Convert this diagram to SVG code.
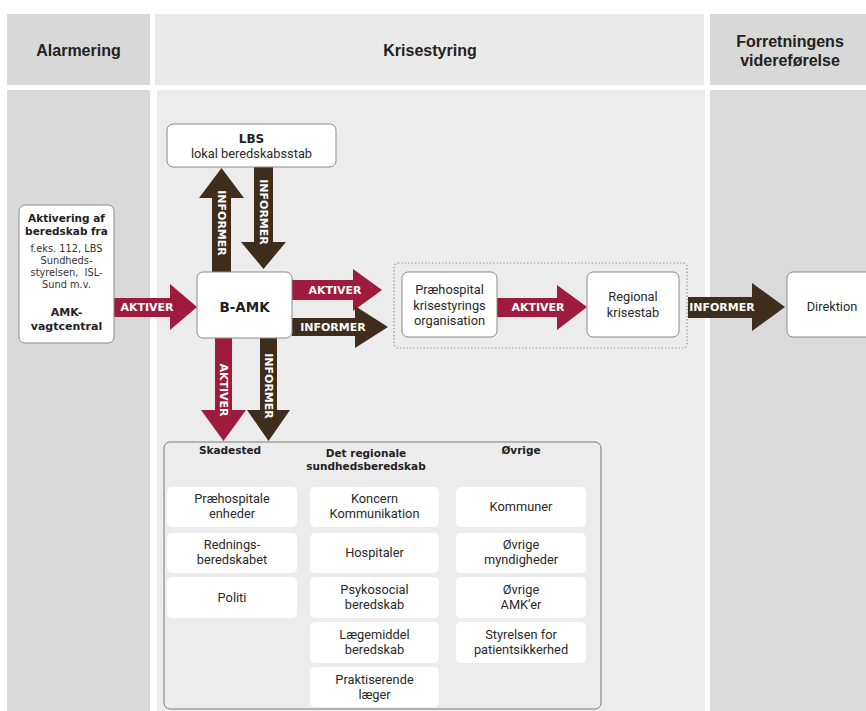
<svg xmlns="http://www.w3.org/2000/svg" width="866" height="711" viewBox="0 0 866 711">
  <style>
    .hdr { font-family: "Liberation Sans", Arial, sans-serif; font-weight: bold; font-size: 16px; fill: #222; text-anchor: middle; }
    .box { fill: #fff; stroke: #8a8a8a; stroke-width: 1; }
    .sub { fill: #fff; }
    .bt { font-family: "DejaVu Sans", Verdana, sans-serif; font-weight: bold; fill: #222; text-anchor: middle; }
    .st { font-family: "DejaVu Sans", Verdana, sans-serif; font-size: 9.8px; fill: #333; text-anchor: middle; }
    .rt { font-family: Roboto, "Liberation Sans", sans-serif; font-size: 12.8px; fill: #2a2a2a; text-anchor: middle; }
    .red { fill: #9e1b3e; }
    .brown { fill: #3e2d1b; }
    .lbl { font-family: "DejaVu Sans", Verdana, sans-serif; font-weight: bold; font-size: 11px; fill: #fff; text-anchor: middle; }
  </style>

  <!-- column backgrounds -->
  <g id="columns">
    <rect x="7" y="14" width="143" height="71" fill="#d8d8d8"/>
    <rect x="155" y="14" width="549" height="71" fill="#e9e9e9"/>
    <rect x="710" y="14" width="156" height="71" fill="#d8d8d8"/>
    <rect x="7" y="90" width="143" height="621" fill="#d9d9d9"/>
    <rect x="157" y="90" width="548" height="621" fill="#ececec"/>
    <rect x="710" y="90" width="156" height="621" fill="#dadada"/>
    <text class="hdr" x="78.5" y="56">Alarmering</text>
    <text class="hdr" x="430" y="56">Krisestyring</text>
    <text class="hdr" x="790" y="47">Forretningens</text>
    <text class="hdr" x="790" y="66">videreførelse</text>
  </g>

  <!-- connectors -->
  <g id="connectors">
    <polygon class="red" points="114,298 170,298 170,284 197,307 170,330 170,317 114,317"/>
    <text class="lbl" x="147" y="311">AKTIVER</text>

    <polygon class="brown" points="212,272 212,198 199,198 221.5,168 244,198 231,198 231,272"/>
    <text class="lbl" transform="translate(221.5,223) rotate(90)" dy="4">INFORMER</text>

    <polygon class="brown" points="254,167 273,167 273,242 286,242 263.5,269 241,242 254,242"/>
    <text class="lbl" transform="translate(263.5,212) rotate(90)" dy="4">INFORMER</text>

    <polygon class="red" points="292,280 353,280 353,269 382,290 353,311 353,300 292,300"/>
    <text class="lbl" x="335" y="294">AKTIVER</text>

    <polygon class="brown" points="292,318 355,318 355,306 388,327 355,348 355,336 292,336"/>
    <text class="lbl" x="333" y="331">INFORMER</text>

    <polygon class="red" points="215,338 232,338 232,410 246,410 223.5,441 201,410 215,410"/>
    <text class="lbl" transform="translate(223.5,390) rotate(90)" dy="4">AKTIVER</text>

    <polygon class="brown" points="260,338 277,338 277,410 290,410 268.5,441 247,410 260,410"/>
    <text class="lbl" transform="translate(268.5,386) rotate(90)" dy="4">INFORMER</text>

    <polygon class="red" points="497,298 557,298 557,285 587,307 557,330 557,317 497,317"/>
    <text class="lbl" x="538" y="311">AKTIVER</text>

    <polygon class="brown" points="688,297 752,297 752,283 785,307 752,331 752,318 688,318"/>
    <text class="lbl" x="722" y="311">INFORMER</text>
  </g>

  <!-- alarm source -->
  <g id="aktivering">
    <rect class="box" x="19" y="205" width="95" height="138" rx="6"/>
    <text class="bt" x="66.5" y="222" font-size="10.5">Aktivering af</text>
    <text class="bt" x="66.5" y="235" font-size="10.5">beredskab fra</text>
    <text class="st" x="66.5" y="252">f.eks. 112, LBS</text>
    <text class="st" x="66.5" y="264">Sundheds-</text>
    <text class="st" x="66.5" y="276" xml:space="preserve">styrelsen,  ISL-</text>
    <text class="st" x="66.5" y="288">Sund m.v.</text>
    <text class="bt" x="66.5" y="316" font-size="11">AMK-</text>
    <text class="bt" x="66.5" y="330" font-size="11">vagtcentral</text>
  </g>

  <g id="lbs">
    <rect class="box" x="167" y="124" width="169" height="43" rx="6"/>
    <text class="bt" x="251.5" y="143" font-size="12">LBS</text>
    <text class="rt" x="251.5" y="158">lokal beredskabsstab</text>
  </g>

  <g id="bamk">
    <rect class="box" x="197" y="272" width="95" height="66" rx="6"/>
    <text class="bt" x="244.5" y="312" font-size="13.5">B-AMK</text>
  </g>

  <g id="praehospital-group">
    <rect x="394" y="263" width="293" height="85" rx="4" fill="none" stroke="#8a8a8a" stroke-width="1.2" stroke-dasharray="1.2 2.2"/>
  </g>

  <g id="praehospital">
    <rect class="box" x="402" y="272" width="95" height="65" rx="6"/>
    <text class="rt" x="449.5" y="294">Præhospital</text>
    <text class="rt" x="449.5" y="309.5">krisestyrings</text>
    <text class="rt" x="449.5" y="325">organisation</text>
  </g>

  <g id="regional">
    <rect class="box" x="587" y="272" width="92" height="65" rx="6"/>
    <text class="rt" x="633" y="301">Regional</text>
    <text class="rt" x="633" y="317">krisestab</text>
  </g>

  <g id="direktion">
    <rect class="box" x="787" y="272" width="90" height="65" rx="6"/>
    <text class="rt" x="832" y="311">Direktion</text>
  </g>

  <!-- recipients of alerts -->
  <g id="modtagere">
    <rect x="164" y="442" width="437" height="267" rx="6" fill="#ececec" stroke="#7a7a7a" stroke-width="1"/>
    <text class="bt" x="230" y="454" font-size="10.5">Skadested</text>
    <text class="bt" x="366" y="457" font-size="10.5">Det regionale</text>
    <text class="bt" x="366" y="470" font-size="10.5">sundhedsberedskab</text>
    <text class="bt" x="521" y="454" font-size="10.5">Øvrige</text>
  </g>

  <g id="skadested">
    <rect class="sub" x="167" y="487" width="130" height="40" rx="5"/>
    <text class="rt" x="232" y="503">Præhospitale</text>
    <text class="rt" x="232" y="518">enheder</text>
    <rect class="sub" x="167" y="533" width="130" height="40" rx="5"/>
    <text class="rt" x="232" y="549">Rednings-</text>
    <text class="rt" x="232" y="564">beredskabet</text>
    <rect class="sub" x="167" y="577" width="130" height="41" rx="5"/>
    <text class="rt" x="232" y="602">Politi</text>
  </g>

  <g id="regionalt-beredskab">
    <rect class="sub" x="310" y="487" width="129" height="40" rx="5"/>
    <text class="rt" x="374.5" y="503">Koncern</text>
    <text class="rt" x="374.5" y="518">Kommunikation</text>
    <rect class="sub" x="310" y="533" width="129" height="40" rx="5"/>
    <text class="rt" x="374.5" y="557">Hospitaler</text>
    <rect class="sub" x="310" y="577" width="129" height="41" rx="5"/>
    <text class="rt" x="374.5" y="594">Psykosocial</text>
    <text class="rt" x="374.5" y="609">beredskab</text>
    <rect class="sub" x="310" y="622" width="129" height="41" rx="5"/>
    <text class="rt" x="374.5" y="639">Lægemiddel</text>
    <text class="rt" x="374.5" y="654">beredskab</text>
    <rect class="sub" x="310" y="667" width="129" height="40" rx="5"/>
    <text class="rt" x="374.5" y="684">Praktiserende</text>
    <text class="rt" x="374.5" y="699">læger</text>
  </g>

  <g id="oevrige">
    <rect class="sub" x="456" y="487" width="130" height="40" rx="5"/>
    <text class="rt" x="521" y="511">Kommuner</text>
    <rect class="sub" x="456" y="533" width="130" height="40" rx="5"/>
    <text class="rt" x="521" y="549">Øvrige</text>
    <text class="rt" x="521" y="564">myndigheder</text>
    <rect class="sub" x="456" y="577" width="130" height="41" rx="5"/>
    <text class="rt" x="521" y="594">Øvrige</text>
    <text class="rt" x="521" y="609">AMK’er</text>
    <rect class="sub" x="456" y="622" width="130" height="41" rx="5"/>
    <text class="rt" x="521" y="639">Styrelsen for</text>
    <text class="rt" x="521" y="654">patientsikkerhed</text>
  </g>
</svg>
